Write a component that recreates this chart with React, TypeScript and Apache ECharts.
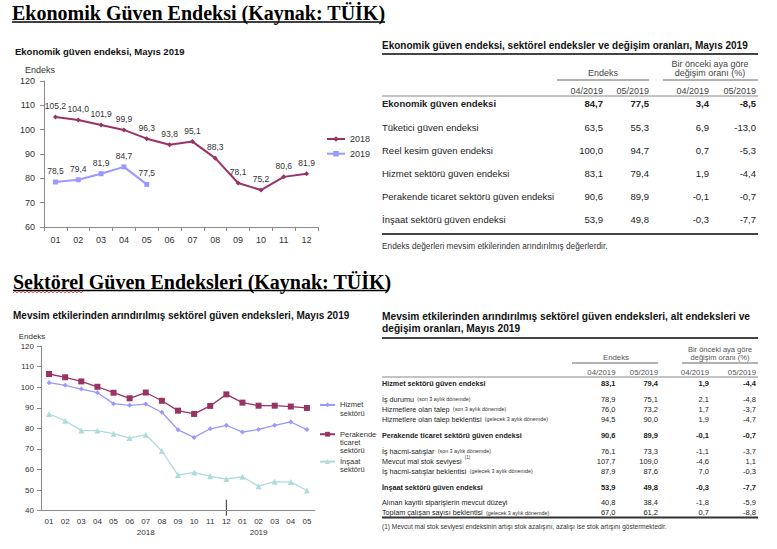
import React, { useEffect, useRef } from "react";
import * as echarts from "echarts";

// ---------- DATA ----------
const months = ["01", "02", "03", "04", "05", "06", "07", "08", "09", "10", "11", "12"];
const eco2018 = [105.2, 104.0, 101.9, 99.9, 96.3, 93.8, 95.1, 88.3, 78.1, 75.2, 80.6, 81.9];
const eco2019 = [78.5, 79.4, 81.9, 84.7, 77.5];

const sectorMonths = ["01", "02", "03", "04", "05", "06", "07", "08", "09", "10", "11", "12", "01", "02", "03", "04", "05"];
const hizmet = [102.2, 100.9, 99.1, 97.3, 92.0, 91.2, 91.8, 87.8, 79.3, 75.6, 79.8, 81.5, 78.2, 79.5, 81.5, 83.1, 79.4];
const perakende = [106.4, 104.8, 102.8, 100.2, 97.3, 94.6, 97.4, 93.4, 88.6, 87.0, 90.9, 96.5, 92.5, 91.0, 91.0, 90.6, 89.9];
const insaat = [87.0, 83.7, 78.9, 78.9, 77.4, 75.3, 76.9, 69.0, 57.3, 58.6, 56.7, 55.4, 56.5, 51.9, 54.1, 53.9, 49.8];
const yearLabels = ["2018", "2019"];

const t1Labels = [
  "Ekonomik güven endeksi",
  "Tüketici güven endeksi",
  "Reel kesim güven endeksi",
  "Hizmet sektörü güven endeksi",
  "Perakende ticaret sektörü güven endeksi",
  "İnşaat sektörü güven endeksi",
];
const t1Apr = [84.7, 63.5, 100.0, 83.1, 90.6, 53.9];
const t1May = [77.5, 55.3, 94.7, 79.4, 89.9, 49.8];
const t1ChgApr = [3.4, 6.9, 0.7, 1.9, -0.1, -0.3];
const t1ChgMay = [-8.5, -13.0, -5.3, -4.4, -0.7, -7.7];
const t1Bold = [true, false, false, false, false, false];

const t2Labels = [
  "Hizmet sektörü güven endeksi",
  "İş durumu",
  "Hizmetlere olan talep",
  "Hizmetlere olan talep beklentisi",
  "Perakende ticaret sektörü güven endeksi",
  "İş hacmi-satışlar",
  "Mevcut mal stok seviyesi",
  "İş hacmi-satışlar beklentisi",
  "İnşaat sektörü güven endeksi",
  "Alınan kayıtlı siparişlerin mevcut düzeyi",
  "Toplam çalışan sayısı beklentisi",
];
const t2Notes = ["", "(son 3 aylık dönemde)", "(son 3 aylık dönemde)", "(gelecek 3 aylık dönemde)", "", "(son 3 aylık dönemde)", "(1)", "(gelecek 3 aylık dönemde)", "", "", "(gelecek 3 aylık dönemde)"];
const t2Apr = [83.1, 78.9, 76.0, 94.5, 90.6, 76.1, 107.7, 87.9, 53.9, 40.8, 67.0];
const t2May = [79.4, 75.1, 73.2, 90.0, 89.9, 73.3, 109.0, 87.6, 49.8, 38.4, 61.2];
const t2ChgApr = [1.9, 2.1, 1.7, 1.9, -0.1, -1.1, -4.6, 7.0, -0.3, -1.8, 0.7];
const t2ChgMay = [-4.4, -4.8, -3.7, -4.7, -0.7, -3.7, 1.1, -0.3, -7.7, -5.9, -8.8];
const t2Bold = [true, false, false, false, true, false, false, false, true, false, false];

const colHeads = ["04/2019", "05/2019", "04/2019", "05/2019"];

// ---------- LAYOUT / STYLE ----------
const SANS = "'Liberation Sans', Arial, Helvetica, sans-serif";
const SERIF = "'Liberation Serif', 'Times New Roman', serif";
const MAROON = "#993366";
const LAVENDER = "#9999FF";
const CYAN = "#AEDCDC";
const AXIS = "#8a8a8a";
const TXT = "#222";

const T1 = { left: 382, right: 758, colX: [603, 649, 709, 756], rowY: [103, 127, 150, 173, 196, 219] };
const T2 = { left: 382, right: 758, colX: [615.5, 658, 709, 756], rowY: [383.3, 399, 409, 419, 435, 451, 461, 471, 487, 502.5, 512.5] };

const fmt = (v: number) => v.toFixed(1).replace(".", ",");

function txt(x: number, y: number, text: string, size: number, o: any = {}) {
  return {
    type: "text",
    x,
    y,
    silent: true,
    style: {
      text,
      fontSize: size,
      fontFamily: o.family || SANS,
      fontWeight: o.bold ? "bold" : "normal",
      fill: o.color || TXT,
      align: o.align || "left",
      verticalAlign: "middle",
      rich: o.rich,
    },
  };
}
function ln(x1: number, y1: number, x2: number, y2: number, w: number, color = "#333") {
  return { type: "line", silent: true, shape: { x1, y1, x2, y2 }, style: { stroke: color, lineWidth: w } };
}

function buildStaticGraphics() {
  const g: any[] = [];
  // headings
  g.push(txt(12, 12.5, "Ekonomik Güven Endeksi (Kaynak: TÜİK)", 20, { family: SERIF, bold: true, color: "#000" }));
  g.push(ln(12, 22, 385, 22, 1.5, "#000"));
  g.push(txt(13, 281.5, "Sektörel Güven Endeksleri (Kaynak: TÜİK)", 20, { family: SERIF, bold: true, color: "#000" }));
  g.push(ln(13, 290.5, 388, 290.5, 1.5, "#000"));
  const wave: number[][] = [];
  for (let x = 13, i = 0; x <= 83; x += 2, i++) wave.push([x, i % 2 ? 291 : 293]);
  g.push({ type: "polyline", silent: true, shape: { points: wave }, style: { stroke: "#e03030", lineWidth: 0.8, fill: null } });

  // chart subtitles
  g.push(txt(15, 51, "Ekonomik güven endeksi, Mayıs 2019", 9.5, { bold: true, color: "#111" }));
  g.push(txt(13, 315, "Mevsim etkilerinden arındırılmış sektörel güven endeksleri, Mayıs 2019", 10, { bold: true, color: "#111" }));

  // ---- Table 1 ----
  g.push(txt(T1.left, 45, "Ekonomik güven endeksi, sektörel endeksler ve değişim oranları, Mayıs 2019", 10, { bold: true, color: "#111" }));
  g.push(ln(T1.left, 54, T1.right, 54, 2, "#444"));
  g.push(txt(603, 73, "Endeks", 9, { align: "center", color: "#444" }));
  g.push(txt(710, 64, "Bir önceki aya göre", 9, { align: "center", color: "#444" }));
  g.push(txt(710, 73, "değişim oranı (%)", 9, { align: "center", color: "#444" }));
  g.push(ln(557, 80, 649, 80, 1, "#666"));
  g.push(ln(663, 80, T1.right, 80, 1, "#666"));
  colHeads.forEach((h, i) => g.push(txt(T1.colX[i], 90.5, h, 9, { align: "right", color: "#444" })));
  g.push(ln(T1.left, 96, T1.right, 96, 1, "#888"));
  t1Labels.forEach((lab, r) => {
    const y = T1.rowY[r];
    const b = t1Bold[r];
    g.push(txt(T1.left, y, lab, 9.5, { bold: b }));
    [t1Apr, t1May, t1ChgApr, t1ChgMay].forEach((arr, c) => g.push(txt(T1.colX[c], y, fmt(arr[r]), 9.5, { bold: b, align: "right" })));
  });
  g.push(ln(T1.left, 234, T1.right, 234, 2, "#444"));
  g.push(txt(T1.left, 246, "Endeks değerleri mevsim etkilerinden arındırılmış değerlerdir.", 8.3, { color: "#333" }));

  // ---- Table 2 ----
  g.push(txt(T2.left, 316.5, "Mevsim etkilerinden arındırılmış sektörel güven endeksleri, alt endeksleri ve", 10.2, { bold: true, color: "#111" }));
  g.push(txt(T2.left, 328, "değişim oranları, Mayıs 2019", 10.2, { bold: true, color: "#111" }));
  g.push(ln(T2.left, 338, T2.right, 338, 2, "#444"));
  g.push(txt(616, 357.5, "Endeks", 7.8, { align: "center", color: "#555" }));
  g.push(txt(720, 349, "Bir önceki aya göre", 7.5, { align: "center", color: "#555" }));
  g.push(txt(720, 357, "değişim oranı (%)", 7.5, { align: "center", color: "#555" }));
  g.push(ln(572, 363, 658, 363, 1, "#666"));
  g.push(ln(682, 363, T2.right, 363, 1, "#666"));
  colHeads.forEach((h, i) => g.push(txt(T2.colX[i], 372.5, h, 7.8, { align: "right", color: "#555" })));
  g.push(ln(T2.left, 377, T2.right, 377, 1, "#888"));
  t2Labels.forEach((lab, r) => {
    const y = T2.rowY[r];
    const b = t2Bold[r];
    const note = t2Notes[r];
    if (note) {
      const isSup = note === "(1)";
      g.push({
        type: "text",
        x: T2.left,
        y,
        silent: true,
        style: {
          text: `{a|${lab}} {${isSup ? "s" : "n"}|${note}}`,
          fontFamily: SANS,
          fill: TXT,
          align: "left",
          verticalAlign: "middle",
          rich: {
            a: { fontSize: 7.2, fontFamily: SANS, fill: TXT, fontWeight: b ? "bold" : "normal", lineHeight: 9 },
            n: { fontSize: 5.4, fontFamily: SANS, fill: "#333", lineHeight: 9 },
            s: { fontSize: 4.5, fontFamily: SANS, fill: "#333", lineHeight: 9, verticalAlign: "top" },
          },
        },
      });
    } else {
      g.push(txt(T2.left, y, lab, 7.2, { bold: b }));
    }
    [t2Apr, t2May, t2ChgApr, t2ChgMay].forEach((arr, c) => g.push(txt(T2.colX[c], y, fmt(arr[r]), 7.5, { bold: b, align: "right" })));
  });
  g.push(ln(T2.left, 517.5, T2.right, 517.5, 2, "#333"));
  g.push(txt(T2.left, 526, "(1) Mevcut mal stok seviyesi endeksinin artışı stok azalışını, azalışı ise stok artışını göstermektedir.", 6.5, { color: "#333" }));
  return g;
}

export default function App() {
  const ref = useRef<HTMLDivElement>(null);
  useEffect(() => {
    if (!ref.current) return;
    const chart = echarts.init(ref.current, undefined, { renderer: "svg" });
    const axisCommon = {
      axisLine: { show: true, lineStyle: { color: AXIS, width: 1 } },
      axisTick: { show: true, length: 4, lineStyle: { color: AXIS } },
      splitLine: { show: false },
    };
    const labelFmt = (p: any) => fmt(p.value);
    const legendText = { fontSize: 7.5, color: "#333", lineHeight: 8.3, fontFamily: SANS };
    const option: any = {
      animation: false,
      backgroundColor: "#fff",
      textStyle: { fontFamily: SANS },
      grid: [
        { left: 44, top: 81, width: 274, height: 146 },
        { left: 41, top: 346, width: 274, height: 164.7 },
      ],
      xAxis: [
        { type: "category", gridIndex: 0, data: months, ...axisCommon, axisLabel: { fontSize: 9, color: "#333", margin: 8, fontFamily: SANS } },
        { type: "category", gridIndex: 1, data: sectorMonths, ...axisCommon, axisTick: { show: false }, axisLabel: { fontSize: 8, color: "#333", margin: 7, interval: 0, fontFamily: SANS } },
      ],
      yAxis: [
        {
          type: "value", gridIndex: 0, min: 60, max: 120, interval: 10, ...axisCommon,
          axisLabel: { fontSize: 9, color: "#333", margin: 9, fontFamily: SANS },
          name: "Endeks", nameLocation: "end", nameGap: 7,
          nameTextStyle: { fontSize: 9, color: "#333", align: "center", padding: [0, 8, 0, 0], fontFamily: SANS },
        },
        {
          type: "value", gridIndex: 1, min: 40, max: 120, interval: 10, ...axisCommon,
          axisLabel: { fontSize: 8, color: "#333", margin: 7, fontFamily: SANS },
          name: "Endeks", nameLocation: "end", nameGap: 6,
          nameTextStyle: { fontSize: 8, color: "#333", align: "center", padding: [0, 18, 0, 0], fontFamily: SANS },
        },
      ],
      legend: [
        {
          data: ["2018", "2019"], orient: "vertical", left: 326, top: 134, padding: 0, itemWidth: 18, itemHeight: 7, itemGap: 4.7,
          textStyle: { fontSize: 9, color: "#333", lineHeight: 10, fontFamily: SANS },
        },
        {
          data: ["Hizmet sektörü"], orient: "vertical", left: 319, top: 392.5, padding: 0, itemWidth: 15, itemHeight: 6,
          formatter: () => " \nHizmet\nsektörü",
          textStyle: legendText,
        },
        {
          data: ["Perakende ticaret sektörü"], orient: "vertical", left: 319, top: 413.5, padding: 0, itemWidth: 15, itemHeight: 6,
          formatter: () => " \n \nPerakende\nticaret\nsektörü",
          textStyle: legendText,
        },
        {
          data: ["İnşaat sektörü"], orient: "vertical", left: 319, top: 449.2, padding: 0, itemWidth: 15, itemHeight: 6,
          formatter: () => " \nİnşaat\nsektörü",
          textStyle: legendText,
        },
      ],
      series: [
        {
          name: "2018", type: "line", xAxisIndex: 0, yAxisIndex: 0, data: eco2018,
          symbol: "diamond", symbolSize: 5, color: MAROON, lineStyle: { width: 2, color: MAROON },
          label: { show: true, position: "top", distance: 4, fontSize: 8.5, color: "#333", formatter: labelFmt, fontFamily: SANS },
        },
        {
          name: "2019", type: "line", xAxisIndex: 0, yAxisIndex: 0, data: eco2019,
          symbol: "rect", symbolSize: 5, color: LAVENDER, lineStyle: { width: 2, color: LAVENDER },
          label: { show: true, position: "top", distance: 4, fontSize: 8.5, color: "#333", formatter: labelFmt, fontFamily: SANS },
        },
        {
          name: "Hizmet sektörü", type: "line", xAxisIndex: 1, yAxisIndex: 1, data: hizmet,
          symbol: "diamond", symbolSize: 5, color: LAVENDER, lineStyle: { width: 1.3, color: LAVENDER },
        },
        {
          name: "Perakende ticaret sektörü", type: "line", xAxisIndex: 1, yAxisIndex: 1, data: perakende,
          symbol: "rect", symbolSize: 6, color: MAROON, lineStyle: { width: 1.3, color: MAROON },
        },
        {
          name: "İnşaat sektörü", type: "line", xAxisIndex: 1, yAxisIndex: 1, data: insaat,
          symbol: "triangle", symbolSize: 6, color: CYAN, lineStyle: { width: 1.3, color: CYAN },
        },
      ],
    };
    chart.setOption(option);

    const g = buildStaticGraphics();
    const axisY = chart.convertToPixel({ yAxisIndex: 1 }, 40) as number;
    const sepX = chart.convertToPixel({ xAxisIndex: 1 }, 11) as number;
    g.push(ln(sepX, axisY - 11, sepX, axisY + 5, 1, "#333"));
    const yearIdx = [6, 13];
    yearLabels.forEach((yl, i) => {
      const x = chart.convertToPixel({ xAxisIndex: 1 }, yearIdx[i]) as number;
      g.push(txt(x, axisY + 22, yl, 8, { align: "center", color: "#333" }));
    });
    chart.setOption({ graphic: g });

    return () => chart.dispose();
  }, []);
  return <div ref={ref} style={{ position: "fixed", left: 0, top: 0, width: 777, height: 549, background: "#fff" }} />;
}
